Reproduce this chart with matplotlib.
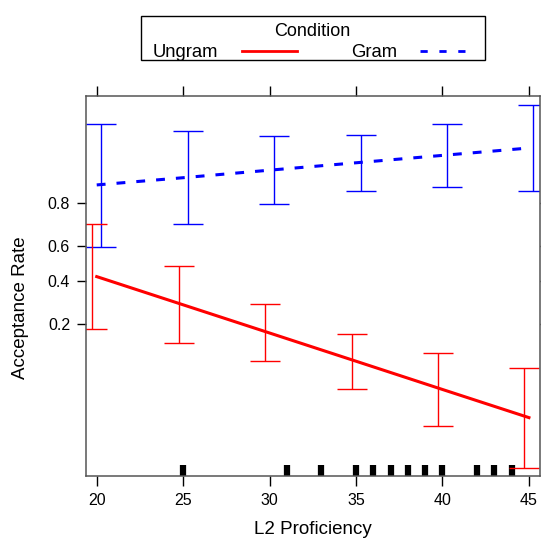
import matplotlib
matplotlib.use("Agg")
import matplotlib.pyplot as plt
from matplotlib.lines import Line2D
from matplotlib.patches import Rectangle
from matplotlib.ticker import FixedLocator, NullLocator, FixedFormatter

plt.rcParams["font.family"] = ["Liberation Sans", "DejaVu Sans"]

# effect of L2 proficiency on acceptance rate, by condition
proficiency = [20, 25, 30, 35, 40, 45]

gram_fit = [0.857, 0.876, 0.8935, 0.9085, 0.9216, 0.9329]
gram_lower = [0.595, 0.710, 0.794, 0.840, 0.850, 0.840]
gram_upper = [0.9604, 0.9532, 0.9479, 0.9497, 0.960, 0.974]

ungram_fit = [0.4256, 0.2803, 0.170, 0.0972, 0.0535, 0.0289]
ungram_lower = [0.1845, 0.140, 0.0977, 0.0544, 0.0240, 0.00941]
ungram_upper = [0.711, 0.4875, 0.2843, 0.168, 0.1157, 0.0845]

# observed proficiency scores (rug)
rug_scores = [25, 31, 33, 35, 36, 37, 38, 39, 40, 42, 43, 44]

y_ticks = [0.2, 0.4, 0.6, 0.8]
y_tick_labels = ["0.2", "0.4", "0.6", "0.8"]
x_ticks = [20, 25, 30, 35, 40, 45]

W, H = 541, 539


def fx(px):
    return px / W


def fy(py):
    return 1 - py / H


fig = plt.figure(figsize=(W / 100, H / 100), dpi=100)
ax = fig.add_axes([fx(86), fy(476), (540 - 86) / W, (476 - 96) / H])
ax.set_yscale("logit")

# rug along the bottom
ax.vlines(rug_scores, 0, 0.029, transform=ax.get_xaxis_transform(),
          color="black", linewidth=4.5, zorder=1)

# error bars, offset slightly per condition
off = 0.26
cap = 0.87
gx = [x + off for x in proficiency]
ux = [x - off for x in proficiency]
ax.vlines(gx, gram_lower, gram_upper, color="blue", linewidth=1.0, zorder=2)
ax.hlines(gram_lower, [x - cap for x in gx], [x + cap for x in gx], color="blue", linewidth=1.0, zorder=2)
ax.hlines(gram_upper, [x - cap for x in gx], [x + cap for x in gx], color="blue", linewidth=1.0, zorder=2)
ax.vlines(ux, ungram_lower, ungram_upper, color="red", linewidth=1.0, zorder=2)
ax.hlines(ungram_lower, [x - cap for x in ux], [x + cap for x in ux], color="red", linewidth=1.0, zorder=2)
ax.hlines(ungram_upper, [x - cap for x in ux], [x + cap for x in ux], color="red", linewidth=1.0, zorder=2)

# fitted lines
ax.plot(proficiency, ungram_fit, color="red", linewidth=2.2, zorder=3)
ax.plot(proficiency, gram_fit, color="blue", linewidth=2.2, dashes=(2.9, 3.6), zorder=3)

ax.set_xlim(19.38, 45.64)
ax.set_ylim(0.0078, 0.9785)

ax.xaxis.set_major_locator(FixedLocator(x_ticks))
ax.yaxis.set_major_locator(FixedLocator(y_ticks))
ax.yaxis.set_major_formatter(FixedFormatter(y_tick_labels))
ax.yaxis.set_minor_locator(NullLocator())
ax.xaxis.set_minor_locator(NullLocator())

ax.tick_params(axis="both", direction="out", colors="black", labelsize=11.5,
               top=True, right=True, width=1.0)
ax.tick_params(axis="x", length=7, pad=5)
ax.tick_params(axis="y", length=6.5, pad=5)
for s in ax.spines.values():
    s.set_color("#555555")
    s.set_linewidth(1.1)

fig.text(fx(312.8), fy(534), "L2 Proficiency", ha="center", va="baseline", fontsize=13.5)
fig.text(fx(21), fy(307.5), "Acceptance Rate", ha="center", va="center",
         rotation=90, fontsize=13.5)

# legend box above the panel
fig.patches.append(Rectangle((fx(140.7), fy(60)), (485 - 140.7) / W, (60 - 15.7) / H,
                             transform=fig.transFigure, fill=False,
                             edgecolor="black", linewidth=1.0))
fig.text(fx(312.7), fy(36.5), "Condition", ha="center", va="baseline", fontsize=13)
fig.text(fx(152.7), fy(57), "Ungram", ha="left", va="baseline", fontsize=13.3)
fig.text(fx(351), fy(57), "Gram", ha="left", va="baseline", fontsize=13.3)
fig.lines.append(Line2D([fx(241.7), fx(296.7)], [fy(51), fy(51)],
                        transform=fig.transFigure, color="red", linewidth=2.0))
fig.lines.append(Line2D([fx(420), fx(468.3)], [fy(51), fy(51)],
                        transform=fig.transFigure, color="blue", linewidth=2.0,
                        dashes=(2.6, 4.2)))

fig.savefig("out.png", dpi=100)
